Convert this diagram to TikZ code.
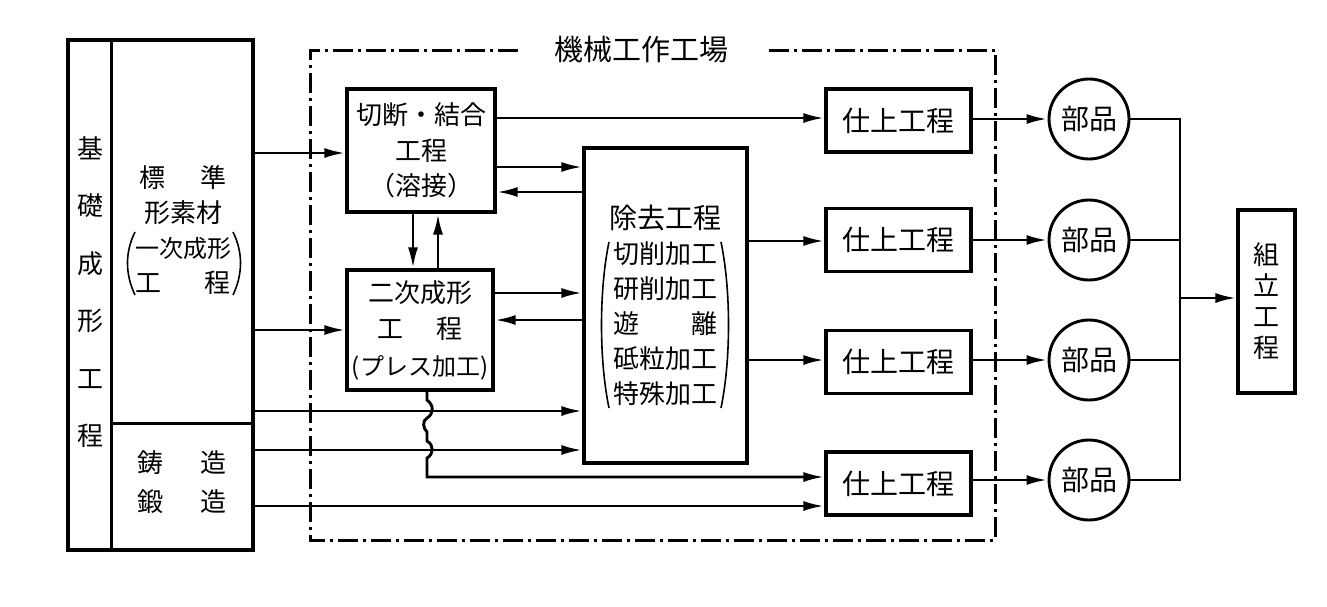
\documentclass[tikz,border=0pt]{standalone}
\usepackage{fontspec}
\setmainfont{Noto Sans CJK JP}
\usetikzlibrary{arrows.meta}
\begin{document}
\begin{tikzpicture}[x=1pt,y=-1pt,
  bx/.style={draw, line width=3.2pt, inner sep=0pt, align=center, font=\fontsize{26}{35.5}\selectfont},
  ln/.style={line width=2.9pt},
  arr/.style={line width=2.9pt, -{Latex[length=21pt,width=10pt]}},
  pbox/.style={bx, minimum width=145pt, minimum height=63pt, font=\fontsize{28}{30}\selectfont},
  part/.style={draw, circle, line width=2.9pt, minimum size=80pt, inner sep=0pt, font=\fontsize{28}{30}\selectfont},
  frame/.style={line width=3pt, dash pattern=on 20pt off 5pt on 3pt off 5pt},
  paren/.style={line width=1.6pt},
  txt/.style={inner sep=0pt, align=center, font=\fontsize{26}{34.7}\selectfont}]
\useasboundingbox[fill=white] (0,0) rectangle (1327,606);

% left block
\node[draw, line width=3.2pt, minimum width=185pt, minimum height=510pt, inner sep=0pt] (L) at (160.5,295) {};
\draw[line width=3pt] ([xshift=45pt]L.north west) -- ([xshift=45pt]L.south west);
\draw[line width=3pt] (113,423) -- (L.east |- 0,423);
\node[txt, font=\fontsize{26}{57.5}\selectfont] (base) at (90,292) {基\\礎\\成\\形\\工\\程};
\node[txt] (std) at (183,230) {\makebox[88pt]{標\hfill{}準}\\形素材\\{\fontsize{24}{34.7}\selectfont 一次成形}\\\makebox[96pt]{工\hfill{}程}};
\draw[paren] (135,232) .. controls (125,252) and (125,274) .. (135,295);
\draw[paren] (233,232) .. controls (243,252) and (243,274) .. (233,295);
\node[txt, font=\fontsize{26}{39}\selectfont] (cast) at (181.5,482.5) {\makebox[89pt]{鋳\hfill{}造}\\\makebox[89pt]{鍛\hfill{}造}};

% title and frame
\node[inner xsep=36pt, inner ysep=0pt, font=\fontsize{29}{30}\selectfont] (title) at (641,50) {機械工作工場};
\draw[frame] (title.west) -- (310,50) -- (310,540) -- (995,540) -- (995,50) -- (title.east);

% process boxes
\node[bx, minimum width=148pt, minimum height=123pt] (n1) at (421,150.5) {切断・結合\\工程\\（溶接）};
\node[bx, minimum width=146pt, minimum height=120pt, font=\fontsize{26}{36.5}\selectfont] (n2) at (420,330) {二次成形\\工\hspace{1.3em}程\\{\fontsize{24}{36.5}\selectfont (プレス加工)}};
\node[bx, minimum width=163pt, minimum height=315pt, font=\fontsize{26}{35}\selectfont] (n3) at (665.5,305.5) {{\fontsize{28}{35}\selectfont 除去工程}\\切削加工\\研削加工\\\makebox[4em]{遊\hfill{}離}\\砥粒加工\\特殊加工};
\draw[paren] (609,242) .. controls (599,290) and (599,360) .. (609,408);
\draw[paren] (721,242) .. controls (731,290) and (731,360) .. (721,408);

\node[pbox] (f1) at (898.5,120.5) {仕上工程};
\node[pbox] (f2) at (898.5,240) {仕上工程};
\node[pbox] (f3) at (898.5,362) {仕上工程};
\node[pbox] (f4) at (898.5,483.5) {仕上工程};

\node[part] (p1) at (1089,119) {部品};
\node[part] (p2) at (1089,240) {部品};
\node[part] (p3) at (1089,360) {部品};
\node[part] (p4) at (1089,480) {部品};

\node[bx, minimum width=57pt, minimum height=183pt, font=\fontsize{26}{31}\selectfont] (asm) at (1266.5,301.5) {組\\立\\工\\程};

% connectors
\draw[arr] (L.east |- 0,153) -- (n1.west |- 0,153);
\draw[arr] (L.east |- 0,330) -- (n2.west |- 0,330);
\draw[arr] (L.east |- 0,411) -- (n3.west |- 0,411);
\draw[arr] (L.east |- 0,450) -- (n3.west |- 0,450);
\draw[arr] (L.east |- 0,506) -- (f4.west |- 0,506);
\draw[arr] (n1.east |- 0,118) -- (f1.west |- 0,118);
\draw[arr] (n1.east |- 0,167) -- (n3.west |- 0,167);
\draw[arr] (n3.west |- 0,192) -- (n1.east |- 0,192);
\draw[arr] (n2.east |- 0,293) -- (n3.west |- 0,293);
\draw[arr] (n3.west |- 0,320) -- (n2.east |- 0,320);
\draw[arr] (n1.south -| 413,0) -- (n2.north -| 413,0);
\draw[arr] (n2.north -| 438,0) -- (n1.south -| 438,0);
\draw[arr] (n3.east |- 0,241) -- (f2.west |- 0,241);
\draw[arr] (n3.east |- 0,360) -- (f3.west |- 0,360);
\draw[arr] (n2.south -| 427,0) -- (427,400) .. controls (434,405) and (434,414) .. (427,418)
  .. controls (422,421) and (423,428) .. (427,432) -- (427,441)
  .. controls (434,445) and (434,454) .. (427,458) -- (427,477) -- (f4.west |- 0,477);

\draw[arr] (f1.east |- p1) -- (p1.west);
\draw[arr] (f2.east |- p2) -- (p2.west);
\draw[arr] (f3.east |- p3) -- (p3.west);
\draw[arr] (f4.east |- p4) -- (p4.west);

\coordinate (J) at (1180,298);
\draw[ln] (p1.east) -| (J);
\draw[ln] (p4.east) -| (J);
\draw[ln] (p2.east) -- (p2.east -| J);
\draw[ln] (p3.east) -- (p3.east -| J);
\draw[arr] (J) -- (asm.west |- J);
\end{tikzpicture}
\end{document}
